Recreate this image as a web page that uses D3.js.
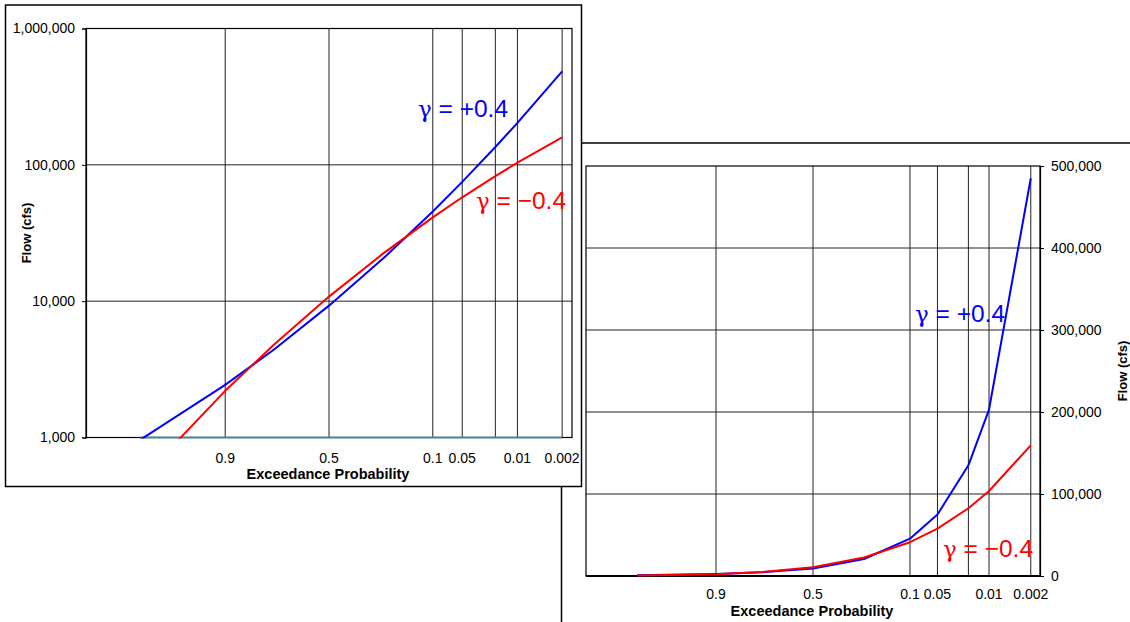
<!DOCTYPE html>
<html>
<head>
<meta charset="utf-8">
<script src="https://cdn.jsdelivr.net/npm/d3@7"></script>
<style>
  html, body { margin: 0; padding: 0; background: #fff; }
  svg { display: block; font-family: "Liberation Sans", Arial, sans-serif; }
</style>
</head>
<body>
<svg id="chart" width="1130" height="622"></svg>
<script>
// Exceedance probabilities of the plotted quantiles
const exceedance = [0.99, 0.9, 0.75, 0.5, 0.25, 0.1, 0.05, 0.02, 0.01, 0.002];
// Flow (cfs) for skew +0.4 and skew -0.4
const flowPos = [965, 2430, 4440, 9270, 20700, 45500, 75000, 135000, 203000, 485000];
const flowNeg = [490, 2200, 4830, 10800, 22500, 41200, 57800, 82600, 103700, 159300];

// Probability grid and labels
const probTicks = [0.9, 0.5, 0.1, 0.05, 0.02, 0.01, 0.002];
const probLabels = ["0.9", "0.5", "0.1", "0.05", "", "0.01", "0.002"];
// Range of the probability axis in standard normal units
const zExtent = [-3, 3];

// Flow axes
const logTicks = [1000, 10000, 100000, 1000000];
const linTicks = [0, 100000, 200000, 300000, 400000, 500000];
// Span of the series baseline drawn along the log chart's floor
const baselineSpan = [0.99, 0.002];

const seriesSymbol = "\u03B3";
const seriesValues = [" = +0.4", " = \u22120.4"];
const xTitle = "Exceedance Probability";
const yTitle = "Flow (cfs)";

// Inverse standard normal CDF (Acklam's rational approximation)
function qnorm(p) {
  const a = [-3.969683028665376e+01, 2.209460984245205e+02, -2.759285104469687e+02,
             1.383577518672690e+02, -3.066479806614716e+01, 2.506628277459239e+00];
  const b = [-5.447609879822406e+01, 1.615858368580409e+02, -1.556989798598866e+02,
             6.680131188771972e+01, -1.328068155288572e+01];
  const c = [-7.784894002430293e-03, -3.223964580411365e-01, -2.400758277161838e+00,
             -2.549732539343734e+00, 4.374664141464968e+00, 2.938163982698783e+00];
  const d = [7.784695709041462e-03, 3.224671290700398e-01, 2.445134137142996e+00,
             3.754408661907416e+00];
  const plow = 0.02425, phigh = 1 - plow;
  let q, r;
  if (p < plow) {
    q = Math.sqrt(-2 * Math.log(p));
    return (((((c[0]*q+c[1])*q+c[2])*q+c[3])*q+c[4])*q+c[5]) /
           ((((d[0]*q+d[1])*q+d[2])*q+d[3])*q+1);
  }
  if (p <= phigh) {
    q = p - 0.5; r = q * q;
    return (((((a[0]*r+a[1])*r+a[2])*r+a[3])*r+a[4])*r+a[5])*q /
           (((((b[0]*r+b[1])*r+b[2])*r+b[3])*r+b[4])*r+1);
  }
  q = Math.sqrt(-2 * Math.log(1 - p));
  return -(((((c[0]*q+c[1])*q+c[2])*q+c[3])*q+c[4])*q+c[5]) /
          ((((d[0]*q+d[1])*q+d[2])*q+d[3])*q+1);
}
const zOf = p => qnorm(1 - p);

const svg = d3.select("#chart");
const fmt = d3.format(",");
const BLUE = "#0000ff", RED = "#ff0000";

function drawPanel(g, o) {
  const x = d3.scaleLinear().domain(zExtent).range([o.left, o.right]);
  const y = o.yScale;
  const px = p => x(zOf(p));

  const defs = g.append("defs");
  defs.append("clipPath").attr("id", o.id + "-clip")
    .append("rect")
    .attr("x", o.left).attr("y", o.top)
    .attr("width", o.right - o.left).attr("height", o.bottom - o.top + 1);

  // horizontal grid
  g.append("g").selectAll("line")
    .data(o.yTicks.slice(1, -1))
    .join("line")
    .attr("x1", o.left).attr("x2", o.right)
    .attr("y1", d => y(d)).attr("y2", d => y(d))
    .attr("stroke", "#222").attr("stroke-width", 1);

  // vertical grid
  g.append("g").selectAll("line")
    .data(probTicks)
    .join("line")
    .attr("x1", d => px(d)).attr("x2", d => px(d))
    .attr("y1", o.top).attr("y2", o.bottom)
    .attr("stroke", "#222").attr("stroke-width", 1);

  // plot frame
  g.append("rect")
    .attr("x", o.left).attr("y", o.top)
    .attr("width", o.right - o.left).attr("height", o.bottom - o.top)
    .attr("fill", "none").attr("stroke", "#000").attr("stroke-width", 1.2);

  // bottom axis line
  g.append("line")
    .attr("x1", o.left).attr("x2", o.right)
    .attr("y1", o.bottom).attr("y2", o.bottom)
    .attr("stroke", "#000").attr("stroke-width", o.bottomWidth);

  if (o.baseline) {
    g.append("line")
      .attr("x1", px(baselineSpan[0])).attr("x2", px(baselineSpan[1]))
      .attr("y1", o.bottom).attr("y2", o.bottom)
      .attr("stroke", "#4a8c9c").attr("stroke-width", 2);
  }

  // value axis
  const axis = (o.axisSide === "left" ? d3.axisLeft(y) : d3.axisRight(y))
    .tickValues(o.yTicks).tickFormat(fmt).tickSize(4).tickPadding(7);
  const ag = g.append("g")
    .attr("transform", `translate(${o.axisSide === "left" ? o.left : o.right},0)`)
    .call(axis);
  ag.select(".domain").attr("stroke", "#000").attr("stroke-width", 1.2);
  ag.selectAll(".tick line").attr("stroke", "#000");
  ag.selectAll("text").attr("font-size", 14).attr("fill", "#000")
    .attr("font-family", "Liberation Sans, Arial, sans-serif");

  // probability labels
  g.append("g").selectAll("text")
    .data(probTicks)
    .join("text")
    .attr("x", d => px(d))
    .attr("y", o.bottom + o.xLabelOffset)
    .attr("text-anchor", "middle")
    .attr("dominant-baseline", "central")
    .attr("font-size", 14)
    .text((d, i) => probLabels[i]);

  // axis titles
  g.append("text")
    .attr("x", (o.left + o.right) / 2 - 1)
    .attr("y", o.bottom + o.xTitleOffset)
    .attr("text-anchor", "middle")
    .attr("dominant-baseline", "central")
    .attr("font-size", 14.5).attr("font-weight", "bold")
    .text(xTitle);

  g.append("text")
    .attr("transform", `translate(${o.yTitleX},${(o.top + o.bottom) / 2}) rotate(-90)`)
    .attr("text-anchor", "middle")
    .attr("dominant-baseline", "central")
    .attr("font-size", 13).attr("font-weight", "bold")
    .text(yTitle);

  // series, clipped to the plot area
  const line = d3.line()
    .x(d => px(d.p))
    .y(d => y(d.v));
  const series = [
    { values: flowPos, color: BLUE },
    { values: flowNeg, color: RED }
  ];
  g.append("g").attr("clip-path", `url(#${o.id}-clip)`)
    .selectAll("path")
    .data(series)
    .join("path")
    .attr("d", s => line(exceedance.map((p, i) => ({ p, v: s.values[i] }))))
    .attr("fill", "none")
    .attr("stroke", s => s.color)
    .attr("stroke-width", 2)
    .attr("stroke-linejoin", "round");

  // series labels
  o.labels.forEach((l, i) => {
    const t = g.append("text")
      .attr("x", l.x).attr("y", l.y)
      .attr("font-size", 24.5)
      .attr("fill", i === 0 ? BLUE : RED);
    t.append("tspan")
      .attr("font-family", "DejaVu Serif, Liberation Serif, serif")
      .attr("font-size", 23)
      .text(seriesSymbol);
    t.append("tspan").text(seriesValues[i]);
  });
}

// Linear-scale panel (behind)
const right = svg.append("g");
right.append("rect")
  .attr("x", 561.5).attr("y", 143).attr("width", 700).attr("height", 600)
  .attr("fill", "#fff").attr("stroke", "#000").attr("stroke-width", 1.5);
drawPanel(right, {
  id: "lin", left: 586, right: 1040, top: 166, bottom: 576,
  yScale: d3.scaleLinear().domain([0, 500000]).range([576, 166]),
  yTicks: linTicks, axisSide: "right", bottomWidth: 2,
  xLabelOffset: 18, xTitleOffset: 35, yTitleX: 1122, baseline: false,
  labels: [{ x: 915, y: 322 }, { x: 943, y: 557 }]
});

// Log-scale panel (front)
const left = svg.append("g");
left.append("rect")
  .attr("x", 5.5).attr("y", 5).attr("width", 576).attr("height", 481.5)
  .attr("fill", "#fff").attr("stroke", "#000").attr("stroke-width", 1.5);
drawPanel(left, {
  id: "log", left: 86, right: 572, top: 28.5, bottom: 437.5,
  yScale: d3.scaleLog().domain([1000, 1000000]).range([437.5, 28.5]),
  yTicks: logTicks, axisSide: "left", bottomWidth: 1.2,
  xLabelOffset: 20, xTitleOffset: 36, yTitleX: 26, baseline: true,
  labels: [{ x: 418, y: 117 }, { x: 476, y: 209 }]
});
</script>
</body>
</html>
